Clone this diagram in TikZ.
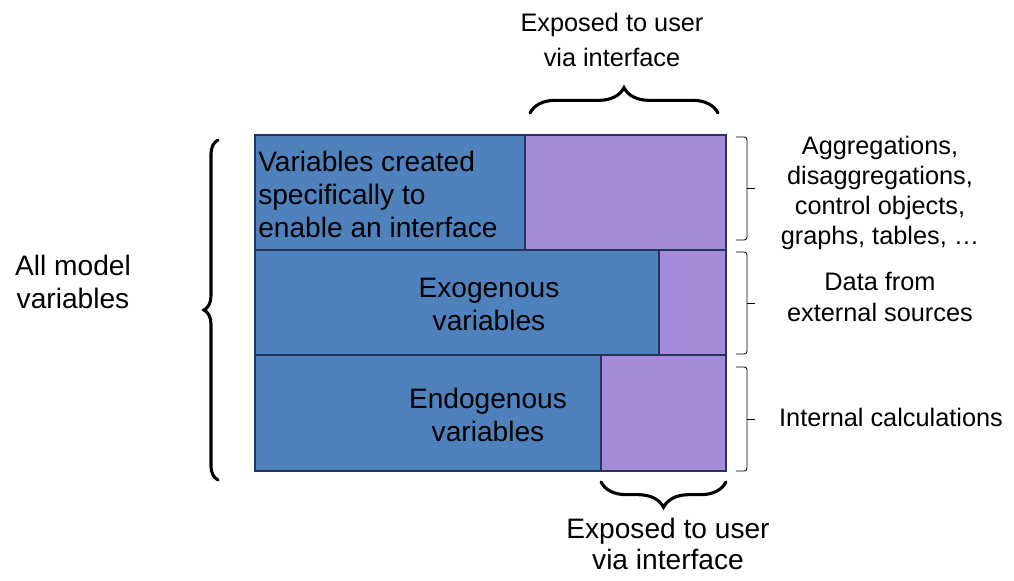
\documentclass[tikz,border=0pt]{standalone}
\usepackage{fontspec}
\setmainfont{Liberation Sans}
\usetikzlibrary{decorations.pathreplacing}
\definecolor{varblue}{HTML}{4F81BD}
\definecolor{varpurple}{HTML}{A78BDB}
\definecolor{edgeblue}{HTML}{26345E}
\begin{document}
\begin{tikzpicture}[x=0.025cm,y=-0.025cm,
  blk/.style={draw=edgeblue,line width=0.8pt},
  bigbrace/.style={decorate,decoration={brace,amplitude=#1},line width=2.2pt,line cap=round},
  thinbrk/.style={line width=0.6pt,rounded corners=2pt},
  note/.style={align=center,inner sep=0pt,font=\fontsize{18}{25}\selectfont},
  sidenote/.style={align=center,inner sep=0pt,font=\fontsize{18}{21.5}\selectfont},
  boxtext/.style={align=center,inner sep=0pt,font=\fontsize{20}{23.5}\selectfont}]
\useasboundingbox (0,0) rectangle (1014,580);

%---------------------------------------------------
\fill[varblue]   (255,135) rectangle (525,250);
\fill[varpurple] (525,135) rectangle (726,250);
\fill[varblue]   (255,250) rectangle (659,355);
\fill[varpurple] (659,250) rectangle (726,355);
\fill[varblue]   (255,355) rectangle (601,471);
\fill[varpurple] (601,355) rectangle (726,471);

\draw[blk] (255,135) rectangle (726,471);
\draw[blk] (255,250) -- (726,250);
\draw[blk] (255,355) -- (726,355);
\draw[blk] (525,135) -- (525,250);
\draw[blk] (659,250) -- (659,355);
\draw[blk] (601,355) -- (601,471);

%---------------------------------------------------
\node[boxtext,anchor=west,align=left] (created) at (258,194) {Variables created\\specifically to\\enable an interface};
\node[boxtext] (exogenous)  at (489,304) {Exogenous\\variables};
\node[boxtext] (endogenous) at (488,415) {Endogenous\\variables};

%---------------------------------------------------
\draw[bigbrace=18] (530,113) -- (718,113);
\draw[bigbrace=18] (726,482) -- (601,482);
\draw[bigbrace=10] (218,480) -- (218,140);

\node[note] (exposedtop) at (612,40)  {Exposed to user\\via interface};
\node[boxtext,font=\fontsize{20}{22.5}\selectfont] (exposedbot) at (668,544) {Exposed to user\\via interface};
\node[boxtext] (allvars) at (73,282) {All model\\variables};

%---------------------------------------------------
\draw[thinbrk] (736,137) -- (747,137) -- (747,240) -- (736,240);
\draw[thinbrk] (747,188) -- (755,188);
\draw[thinbrk] (736,252) -- (747,252) -- (747,354) -- (736,354);
\draw[thinbrk] (747,303) -- (755,303);
\draw[thinbrk] (736,367) -- (747,367) -- (747,471) -- (736,471);
\draw[thinbrk] (747,419) -- (755,419);

\node[sidenote] (aggr)     at (880,193) {Aggregations,\\disaggregations,\\control objects,\\graphs, tables, \dots};
\node[sidenote] (external) at (880,297) {Data from\\external sources};
\node[sidenote] (internal) at (891,417) {Internal calculations};

\end{tikzpicture}
\end{document}
